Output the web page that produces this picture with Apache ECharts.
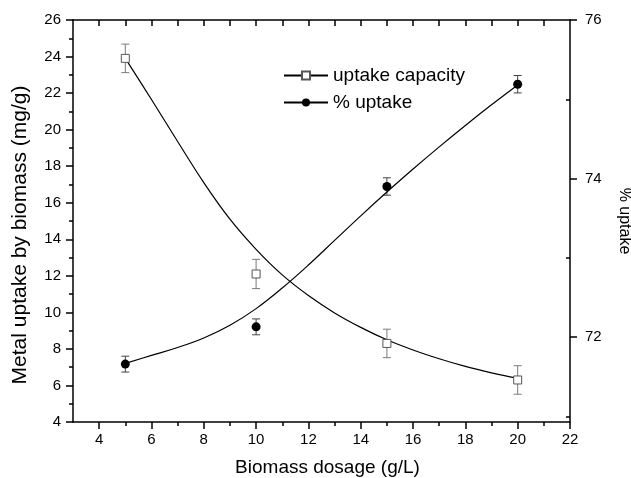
<!DOCTYPE html>
<html><head><meta charset="utf-8">
<script src="https://cdn.jsdelivr.net/npm/echarts@6/dist/echarts.min.js"></script>
<style>html,body{margin:0;padding:0;background:#fff}#c{width:631px;height:478px}</style>
</head><body><div id="c"></div>
<script>
// Measured data
const dosage = [5, 10, 15, 20];
const capacity = [23.9, 12.1, 8.3, 6.3];
const capacityErr = [0.78, 0.8, 0.78, 0.78];
const uptakePct = [71.66, 72.13, 73.9, 75.19];
const uptakePctErr = [0.1, 0.1, 0.11, 0.11];
// Fitted curves
const fitX = [5, 6, 7, 8, 9, 10, 11, 12, 13, 14, 15, 16, 17, 18, 19, 20];
const capacityFit = [23.9, 21.65, 19.35, 17.1, 15.1, 13.45, 12.05, 10.92, 9.97, 9.18, 8.5, 7.94, 7.46, 7.04, 6.69, 6.39];
const uptakeFit = [71.67, 71.77, 71.87, 71.99, 72.15, 72.36, 72.62, 72.91, 73.22, 73.53, 73.83, 74.12, 74.40, 74.67, 74.93, 75.18];
// Ticks
const xMajorTicks = [4, 6, 8, 10, 12, 14, 16, 18, 20, 22];
const xMinorTicks = [5, 7, 9, 11, 13, 15, 17, 19, 21];
const xTopTicks = [4, 5, 6, 7, 8, 9, 10, 11, 12, 13, 14, 15, 16, 17, 18, 19, 20, 21];
const rightMajor = [72, 74, 76];
const rightMinor = [71, 73, 75];
const seriesNames = ['uptake capacity', '% uptake'];

const FONT = 'Liberation Sans, Arial, sans-serif';
const chart = echarts.init(document.getElementById('c'), null, {renderer: 'canvas'});

function errRender(color) {
  return function (params, api) {
    const x = api.value(0), lo = api.value(1), hi = api.value(2);
    const a = api.coord([x, hi]), b = api.coord([x, lo]);
    const w = 4;
    const st = {stroke: color, lineWidth: 1};
    return {type: 'group', children: [
      {type: 'line', shape: {x1: a[0], y1: a[1], x2: b[0], y2: b[1]}, style: st},
      {type: 'line', shape: {x1: a[0] - w, y1: a[1], x2: a[0] + w, y2: a[1]}, style: st},
      {type: 'line', shape: {x1: b[0] - w, y1: b[1], x2: b[0] + w, y2: b[1]}, style: st}
    ]};
  };
}

const axLine = {show: true, onZero: false, lineStyle: {color: '#000', width: 1.5}};
const hiddenLine = {show: true, onZero: false, lineStyle: {color: '#000', width: 0, opacity: 0}};
const tickStyle = {color: '#000', width: 1.5};
const lbl = {color: '#000', fontSize: 15, fontFamily: FONT};

chart.setOption({
  animation: false,
  backgroundColor: '#fff',
  grid: {left: 73, right: 61, top: 20, bottom: 56, containLabel: false, outerBoundsMode: 'none'},
  legend: {
    data: seriesNames,
    orient: 'vertical', left: 283, top: 66, padding: 0,
    itemWidth: 44, itemHeight: 10, itemGap: 8,
    selectedMode: false,
    textStyle: {fontSize: 19, fontFamily: FONT, color: '#000', lineHeight: 18}
  },
  xAxis: [
    {type: 'value', min: 3, max: 22, position: 'bottom',
     axisLine: axLine, splitLine: {show: false},
     axisTick: {show: true, inside: false, customValues: xMajorTicks, length: 7, lineStyle: tickStyle},
     axisLabel: Object.assign({customValues: xMajorTicks, margin: 10}, lbl),
     name: 'Biomass dosage (g/L)', nameLocation: 'middle', nameGap: 36,
     nameTextStyle: {fontSize: 19, fontFamily: FONT, color: '#000', padding: [0, 0, 0, 12]}},
    {type: 'value', min: 3, max: 22, position: 'bottom',
     axisLine: hiddenLine, splitLine: {show: false},
     axisTick: {show: true, inside: false, customValues: xMinorTicks, length: 4, lineStyle: tickStyle},
     axisLabel: {show: false}},
    {type: 'value', min: 3, max: 22, position: 'top',
     axisLine: axLine, splitLine: {show: false},
     axisTick: {show: true, inside: true, customValues: xTopTicks, length: 6, lineStyle: tickStyle},
     axisLabel: {show: false}}
  ],
  yAxis: [
    {type: 'value', min: 4, max: 26, interval: 2, position: 'left',
     axisLine: axLine, splitLine: {show: false},
     axisTick: {show: true, inside: false, length: 7, lineStyle: tickStyle},
     minorTick: {show: true, splitNumber: 2, length: 4, lineStyle: tickStyle},
     minorSplitLine: {show: false},
     axisLabel: Object.assign({margin: 12}, lbl),
     name: 'Metal uptake by biomass (mg/g)', nameLocation: 'middle', nameGap: 42,
     nameTextStyle: {fontSize: 21, fontFamily: FONT, color: '#000', padding: [0, 28, 0, 0]}},
    {type: 'value', min: 70.93, max: 76, position: 'right', offset: 0,
     axisLine: axLine, splitLine: {show: false},
     axisTick: {show: true, inside: false, customValues: rightMajor, length: 7, lineStyle: tickStyle},
     axisLabel: Object.assign({customValues: rightMajor, margin: 15}, lbl),
     name: '% uptake', nameLocation: 'middle', nameGap: 46, nameRotate: -90,
     nameTextStyle: {fontSize: 16, fontFamily: FONT, color: '#000'}},
    {type: 'value', min: 70.93, max: 76, position: 'right', offset: 0,
     axisLine: hiddenLine, splitLine: {show: false},
     axisTick: {show: true, inside: true, customValues: rightMinor, length: 4, lineStyle: tickStyle},
     axisLabel: {show: false}}
  ],
  series: [
    {type: 'custom', name: 'cap err', xAxisIndex: 0, yAxisIndex: 0, z: 2,
     renderItem: errRender('#7a7a7a'),
     data: dosage.map((x, i) => [x, capacity[i] - capacityErr[i], capacity[i] + capacityErr[i]])},
    {type: 'line', name: seriesNames[0], xAxisIndex: 0, yAxisIndex: 0, z: 3,
     smooth: 0.4, showSymbol: false, symbol: 'rect',
     lineStyle: {color: '#000', width: 1.2},
     itemStyle: {color: '#fff', borderColor: '#555', borderWidth: 1},
     data: fitX.map((x, i) => [x, capacityFit[i]])},
    {type: 'scatter', name: 'cap pts', xAxisIndex: 0, yAxisIndex: 0, z: 4,
     symbol: 'rect', symbolSize: 8,
     itemStyle: {color: '#fff', borderColor: '#555', borderWidth: 1, opacity: 1},
     data: dosage.map((x, i) => [x, capacity[i]])},
    {type: 'custom', name: 'pct err', xAxisIndex: 0, yAxisIndex: 1, z: 2,
     renderItem: errRender('#444'),
     data: dosage.map((x, i) => [x, uptakePct[i] - uptakePctErr[i], uptakePct[i] + uptakePctErr[i]])},
    {type: 'line', name: seriesNames[1], xAxisIndex: 0, yAxisIndex: 1, z: 3,
     smooth: 0.4, showSymbol: false, symbol: 'circle',
     lineStyle: {color: '#000', width: 1.2},
     itemStyle: {color: '#000'},
     data: fitX.map((x, i) => [x, uptakeFit[i]])},
    {type: 'scatter', name: 'pct pts', xAxisIndex: 0, yAxisIndex: 1, z: 4,
     symbol: 'circle', symbolSize: 9,
     itemStyle: {color: '#000', opacity: 1},
     data: dosage.map((x, i) => [x, uptakePct[i]])}
  ]
});
</script>
</body></html>
